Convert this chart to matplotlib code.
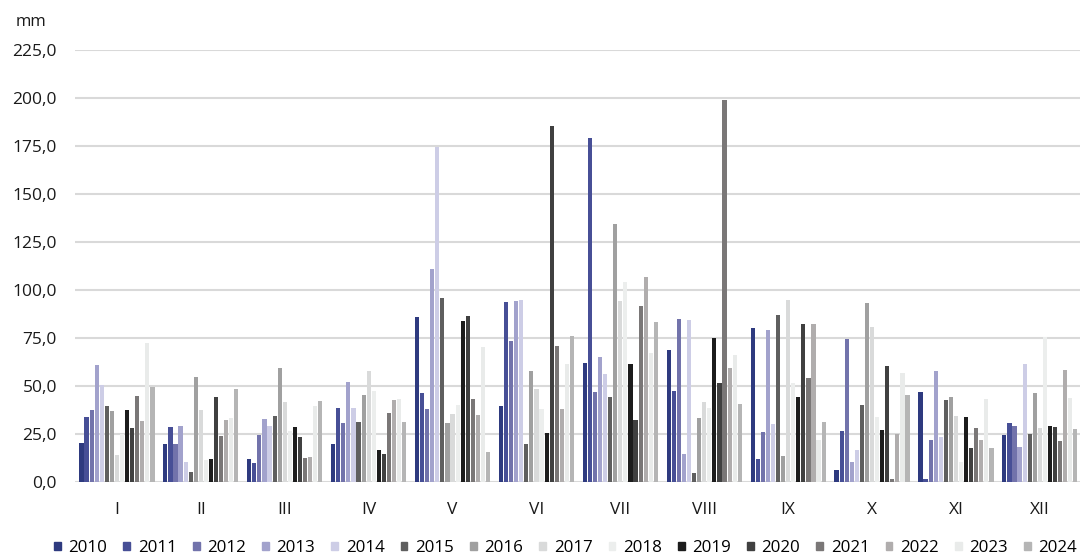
import matplotlib
matplotlib.use("Agg")
import matplotlib.pyplot as plt
from matplotlib.patches import Rectangle
import numpy as np

plt.rcParams['font.family'] = ['Open Sans', 'DejaVu Sans']

months = ["I", "II", "III", "IV", "V", "VI", "VII", "VIII", "IX", "X", "XI", "XII"]
years = [str(y) for y in range(2010, 2025)]

v2010 = [20.6, 19.9, 12.0, 19.8, 85.9, 39.7, 62.0, 68.9, 80.4, 6.4, 46.9, 24.7]
v2011 = [34.0, 28.8, 10.2, 38.5, 46.7, 93.9, 179.2, 47.6, 12.3, 26.6, 1.7, 30.7]
v2012 = [37.7, 19.9, 24.8, 31.0, 38.2, 73.8, 46.9, 85.2, 26.0, 74.6, 21.9, 29.2]
v2013 = [61.1, 29.2, 32.8, 52.4, 111.3, 94.6, 65.1, 14.6, 79.2, 10.7, 58.2, 18.4]
v2014 = [50.7, 10.7, 29.3, 38.5, 174.5, 95.0, 56.3, 84.5, 30.4, 16.8, 23.8, 61.5]
v2015 = [39.6, 5.5, 34.4, 31.3, 96.1, 19.8, 44.3, 5.0, 87.3, 40.3, 42.7, 25.0]
v2016 = [37.1, 54.8, 59.5, 45.5, 30.7, 58.0, 134.4, 33.5, 13.5, 93.5, 44.6, 46.5]
v2017 = [14.2, 37.5, 42.0, 58.0, 35.6, 48.8, 94.4, 41.8, 94.8, 80.7, 34.4, 28.3]
v2018 = [25.0, 11.6, 26.7, 47.7, 40.4, 38.3, 104.3, 38.9, 51.7, 34.2, 10.4, 75.5]
v2019 = [37.7, 12.0, 29.0, 16.8, 84.0, 25.5, 61.6, 75.2, 44.6, 27.1, 33.9, 29.2]
v2020 = [28.4, 44.6, 23.8, 14.6, 86.6, 185.6, 32.4, 51.9, 82.4, 60.6, 17.9, 28.8]
v2021 = [45.1, 24.3, 12.5, 35.9, 43.5, 70.8, 91.8, 199.1, 54.5, 1.9, 28.1, 21.7]
v2022 = [31.8, 32.3, 13.2, 42.9, 35.1, 38.0, 106.9, 59.5, 82.3, 25.0, 21.9, 58.3]
v2023 = [72.4, 33.6, 39.7, 43.4, 70.5, 61.6, 67.3, 66.5, 21.9, 56.8, 43.4, 44.1]
v2024 = [49.5, 48.6, 42.2, 31.6, 15.9, 76.2, 83.5, 40.8, 31.3, 45.3, 17.9, 27.8]

series = [v2010, v2011, v2012, v2013, v2014, v2015, v2016, v2017, v2018,
          v2019, v2020, v2021, v2022, v2023, v2024]

colors = ["#2E3A7F", "#474F96", "#7273AB", "#A2A2CC", "#CDCDE6",
          "#5F5F5F", "#A0A0A0", "#D9DADA", "#ECEEED", "#1C1C1C",
          "#404040", "#7A7777", "#B0ADAD", "#E9EBEA", "#B5B5B5"]

W, H = 1080, 555
fig = plt.figure(figsize=(W / 100, H / 100), dpi=100)
ax_left, ax_right = 75, 75 + 12 * 83.9
ax_top, ax_bot = 50.3, 482.3
ax = fig.add_axes([ax_left / W, (H - ax_bot) / H, (ax_right - ax_left) / W, (ax_bot - ax_top) / H])

x = np.arange(len(months))
slot = 1 / 16.55
n = len(series)
for j, (vals, c) in enumerate(zip(series, colors)):
    ax.bar(x + (j - (n - 1) / 2) * slot, vals, width=slot * 0.82, color=c,
           linewidth=0, zorder=3)

ax.set_xlim(-0.5, 11.5)
ax.set_ylim(0, 225)
yt = np.arange(0, 226, 25)
ax.set_yticks(yt)
ax.set_yticklabels([f"{v:.1f}".replace(".", ",") for v in yt], fontsize=12.5, color="#1a1a1a")
ax.set_xticks(x)
ax.set_xticklabels(months, fontsize=12.5, color="#1a1a1a")
ax.tick_params(axis='both', length=0)
ax.tick_params(axis='y', pad=13)
ax.tick_params(axis='x', pad=14)
ax.grid(axis='y', color="#D9D9D9", linewidth=1.5, zorder=0)
ax.set_axisbelow(True)
for s in ax.spines.values():
    s.set_visible(False)

fig.text(31 / W, (H - 22) / H, "mm", fontsize=12, ha='center', va='center', color="#1a1a1a")

handles = [Rectangle((0, 0), 1, 1, color=c) for c in colors]
leg = fig.legend(handles, years, loc='center left', bbox_to_anchor=(54 / W, 7 / H),
                 ncol=15, frameon=False, fontsize=12.2, handlelength=0.4,
                 handleheight=0.4, handletextpad=0.45, columnspacing=0.95,
                 borderpad=0, borderaxespad=0)

fig.savefig("out.png", dpi=100)
